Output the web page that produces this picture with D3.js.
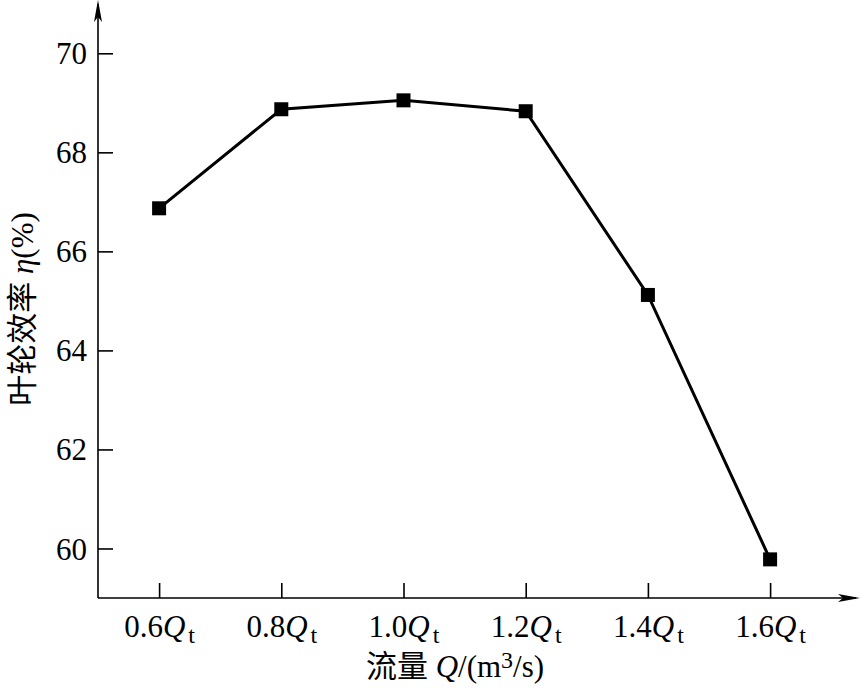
<!DOCTYPE html>
<meta charset="utf-8">
<style>
body { margin: 0; background: #fff; }
svg { display: block; }
text { font-family: "Liberation Serif", "Noto Sans CJK SC", serif; fill: #000; }
.axis path, .axis line { stroke: #000; stroke-width: 1.6; }
</style>
<svg width="860" height="688"></svg>
<script src="https://d3js.org/d3.v7.min.js"></script>
<script>

var flowRatio = [0.6, 0.8, 1.0, 1.2, 1.4, 1.6];
var efficiency = [66.87, 68.87, 69.05, 68.83, 65.12, 59.78];
var xTicks = [0.6, 0.8, 1.0, 1.2, 1.4, 1.6];
var yTicks = [60, 62, 64, 66, 68, 70];

var svg = d3.select("svg"),
    left = 98, bottom = 598;

var x = d3.scaleLinear().domain([0.5, 1.6]).range([left, left + 1.1 * 611]),
    y = d3.scaleLinear().domain([59, 70]).range([bottom, 53.3]);

// axes lines with arrows
svg.append("line").attr("x1", left).attr("y1", bottom).attr("x2", left).attr("y2", 4)
    .attr("stroke", "#000").attr("stroke-width", 1.6);
svg.append("path").attr("d", "M" + left + ",0 L" + (left - 4) + ",22 L" + left + ",17 L" + (left + 4) + ",22 Z")
    .attr("fill", "#000");
svg.append("line").attr("x1", left).attr("y1", bottom).attr("x2", 856).attr("y2", bottom)
    .attr("stroke", "#000").attr("stroke-width", 1.6);
svg.append("path").attr("d", "M860," + bottom + " L838," + (bottom - 4) + " L843," + bottom + " L838," + (bottom + 4) + " Z")
    .attr("fill", "#000");

// y axis
var gy = svg.append("g")
    .attr("class", "axis")
    .attr("transform", "translate(" + left + ",0)")
    .call(d3.axisLeft(y).tickValues(yTicks).tickSize(-15).tickPadding(11).tickFormat(d3.format("d")));
gy.select(".domain").remove();
gy.selectAll("text").style("font-size", "31px").attr("dy", "0.34em");

// x axis
var gx = svg.append("g")
    .attr("class", "axis")
    .attr("transform", "translate(0," + bottom + ")")
    .call(d3.axisBottom(x).tickValues(xTicks).tickSize(-15).tickPadding(10).tickFormat(d3.format(".1f")));
gx.select(".domain").remove();
gx.selectAll("text").each(function(d) {
  var t = d3.select(this).text(null).attr("dy", "0.92em").style("font-size", "31px");
  t.append("tspan").text(d3.format(".1f")(d));
  t.append("tspan").style("font-style", "italic").text("Q");
  t.append("tspan").attr("dy", "6").attr("dx", "3").style("font-size", "24px").text("t");
});

// line and markers
var pts = flowRatio.map(function(d, i) { return [d, efficiency[i]]; });
svg.append("path")
    .datum(pts)
    .attr("fill", "none")
    .attr("stroke", "#000")
    .attr("stroke-width", 3)
    .attr("d", d3.line().x(function(d) { return x(d[0]); }).y(function(d) { return y(d[1]); }));

svg.selectAll(".pt")
    .data(pts)
  .enter().append("rect")
    .attr("class", "pt")
    .attr("x", function(d) { return x(d[0]) - 7; })
    .attr("y", function(d) { return y(d[1]) - 7; })
    .attr("width", 14)
    .attr("height", 14)
    .attr("fill", "#000");

// axis titles
var xt = svg.append("text")
    .attr("x", 455).attr("y", 677)
    .attr("text-anchor", "middle")
    .style("font-size", "31px");
xt.append("tspan").text("流量 ");
xt.append("tspan").style("font-style", "italic").text("Q");
xt.append("tspan").text("/(m");
xt.append("tspan").attr("dy", "-9").style("font-size", "24px").text("3");
xt.append("tspan").attr("dy", "9").text("/s)");

var yt = svg.append("text")
    .attr("transform", "translate(33,309) rotate(-90)")
    .attr("text-anchor", "middle")
    .style("font-size", "31px");
yt.append("tspan").text("叶轮效率 ");
yt.append("tspan").style("font-style", "italic").text("η");
yt.append("tspan").text("(%)");

</script>
